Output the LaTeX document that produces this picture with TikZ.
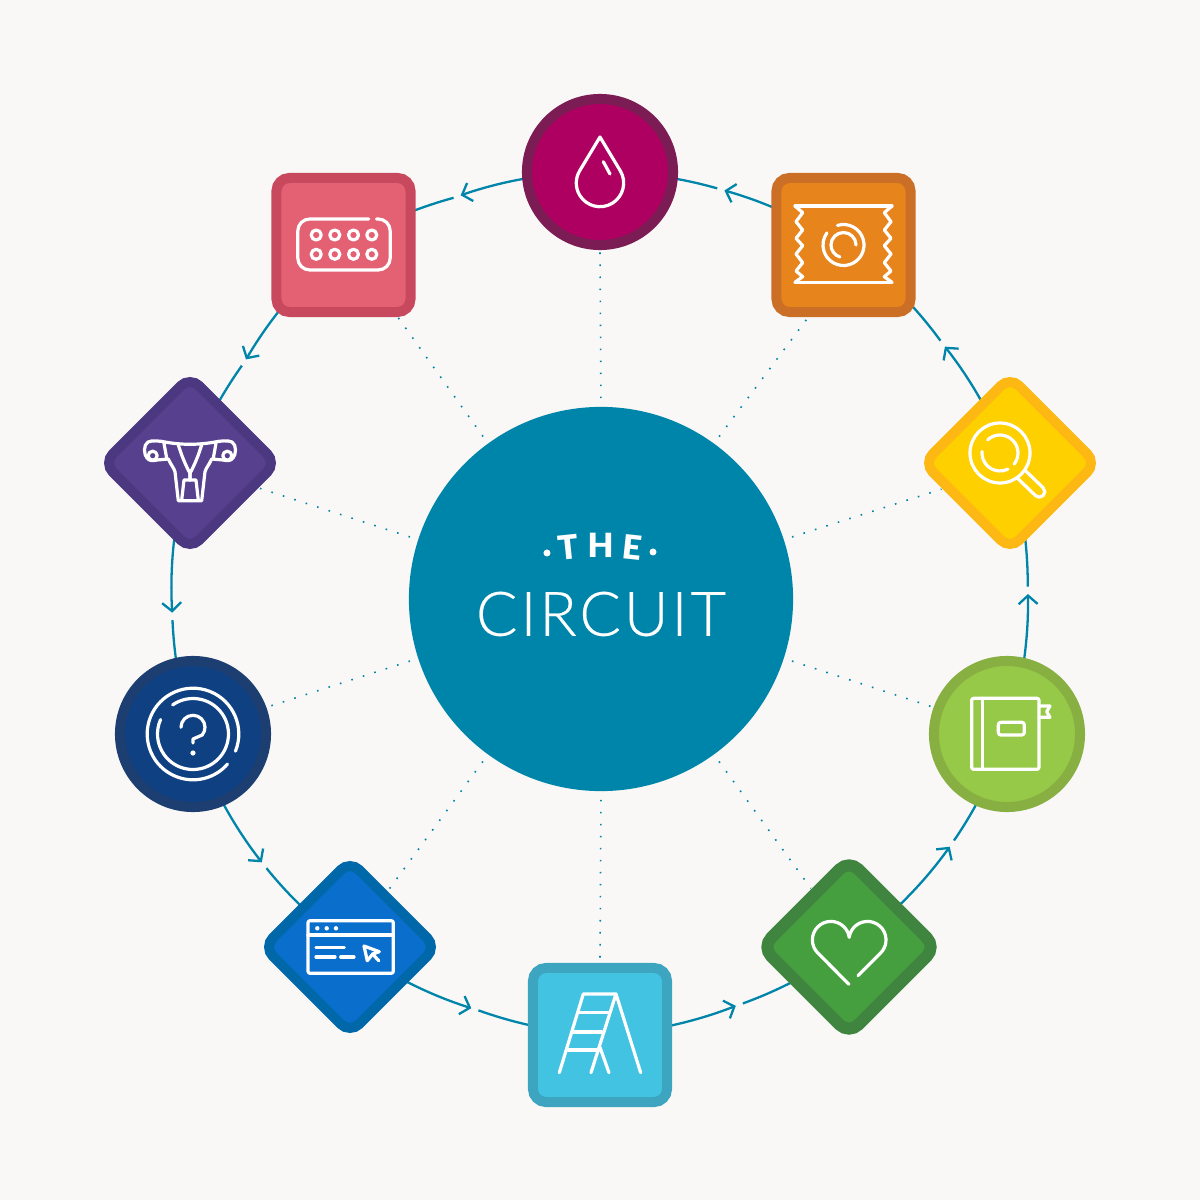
\documentclass[tikz,border=0pt]{standalone}
\usepackage{fontspec}
\setmainfont{Lato}
\newfontfamily\circuitfont[LetterSpace=4.7,FakeBold=0.35]{Lato Light}
\newfontfamily\headfont{Lato Black}
\usetikzlibrary{arrows.meta, decorations.text}
\pgfdeclarelayer{wires}
\pgfsetlayers{wires,main}

\definecolor{paper}{HTML}{F9F8F6}
\definecolor{teal}{HTML}{0085AA}
\definecolor{dropfill}{HTML}{AE0060}
\definecolor{dropedge}{HTML}{7B1C55}
\definecolor{condomfill}{HTML}{E8841C}
\definecolor{condomedge}{HTML}{CB6F27}
\definecolor{lensfill}{HTML}{FFD000}
\definecolor{lensedge}{HTML}{FDB813}
\definecolor{bookfill}{HTML}{96C947}
\definecolor{bookedge}{HTML}{88AF42}
\definecolor{heartfill}{HTML}{469F3E}
\definecolor{heartedge}{HTML}{3F853F}
\definecolor{ladderfill}{HTML}{42C3E2}
\definecolor{ladderedge}{HTML}{3DA5C0}
\definecolor{browserfill}{HTML}{0A6FCC}
\definecolor{browseredge}{HTML}{0068A8}
\definecolor{askfill}{HTML}{0E4082}
\definecolor{askedge}{HTML}{1D3E70}
\definecolor{uterusfill}{HTML}{57408E}
\definecolor{uterusedge}{HTML}{4B3880}
\definecolor{pillfill}{HTML}{E46173}
\definecolor{pilledge}{HTML}{C8485E}

\begin{document}
\begin{tikzpicture}[x=0.01cm, y=0.01cm, >={Straight Barb[length=0.085cm, width=0.19cm]}]
        % Define styles
        \tikzstyle{hubdisc} = [circle, fill=teal, minimum size=3.84cm, inner sep=0pt]
        \tikzstyle{disc} = [circle, draw, line width=0.1cm, minimum size=1.46cm, inner sep=0pt]
        \tikzstyle{tile} = [rectangle, draw, line width=0.1cm, minimum size=1.34cm, inner sep=0pt, rounded corners=0.13cm]
        \tikzstyle{gem} = [tile, rotate=45, minimum size=1.22cm]
        \tikzstyle{wire} = [draw=teal, line width=0.023cm, looseness=0.856]
        \tikzstyle{spoke} = [draw=teal, line width=0.016cm, dash pattern=on 0.016cm off 0.104cm, shorten <=0.08cm, shorten >=0.01cm]
        \tikzstyle{icon} = [draw=white, line width=0.032cm, line cap=round, line join=round]

        % Nodes
        \node [hubdisc] (hub) at (1,1) {};
        \node [disc, fill=dropfill, draw=dropedge] (drop) at (0,428) {};
        \node [tile, fill=condomfill, draw=condomedge] (condom) at (243.5,355) {};
        \node [gem, fill=lensfill, draw=lensedge] (lens) at (410,137) {};
        \node [disc, fill=bookfill, draw=bookedge] (book) at (407,-134) {};
        \node [gem, fill=heartfill, draw=heartedge, line width=0.12cm, minimum size=1.23cm] (heart) at (249,-347) {};
        \node [tile, fill=ladderfill, draw=ladderedge] (ladder) at (0,-435) {};
        \node [gem, fill=browserfill, draw=browseredge] (browser) at (-250,-347) {};
        \node [disc, fill=askfill, draw=askedge] (ask) at (-407,-134) {};
        \node [gem, fill=uterusfill, draw=uterusedge] (uterus) at (-410,137) {};
        \node [tile, fill=pillfill, draw=pilledge] (pill) at (-256.5,355) {};

        % Title
        \node [text=white, font=\circuitfont\fontsize{17.5}{20}\selectfont, inner sep=0pt] (circuit) at (1,-14) {CIRCUIT};
        \path [decorate, decoration={text along path, text align={fit to path},
            text={|\headfont\fontsize{9.5}{11}\selectfont\color{white}|THE}}]
            (0,-248) ++(98:290) arc [start angle=98, end angle=82, radius=290];
        \fill [white] (-53,47) circle [radius=3.5];
        \fill [white] (53,48) circle [radius=3.5];

        % Dotted spokes
        \foreach \target/\a/\b in {drop/90/-90, condom/54/-116.6, lens/18/156, book/-18/160, heart/-54/78,
            ladder/-90/90, browser/-126/11, ask/-162/20, uterus/162/-65, pill/126/-53.5}
            \draw [spoke] (hub.\a) -- (\target.\b);

        % Edges
        \begin{pgfonlayer}{wires}
            \fill [paper] (-600,-600) rectangle (600,600);
            \foreach \from/\to/\a/\p/\q in {lens/condom/36.3/8.9/9.15, condom/drop/73.1/8.75/8, drop/pill/109/9.5/8,
                pill/uterus/145.8/10/7.3, uterus/ask/181.7/10.1/7.75, ask/browser/217.8/9.8/7.7, browser/ladder/252.5/9.15/8.25,
                ladder/heart/288.5/9.25/8.1, heart/book/324.8/9.55/8, book/lens/0.8/9.5/8.35} {
                \coordinate (tip\from) at (\a:428);
                \coordinate (gap\from) at ({\a+1}:428);
                \draw [wire, ->] (\from.center) to [bend right=\p] (tip\from);
                \draw [wire] (gap\from) to [bend right=\q] (\to.center);
            }
        \end{pgfonlayer}

        % Drop
        \begin{scope}[shift={(drop)}]
            \draw [icon] (0,35) -- (20.3,1.2) arc [start angle=31, end angle=-211, radius=23.7] -- cycle;
            \draw [icon] (3.3,10.3) -- (10,-2);
        \end{scope}

        % Condom
        \begin{scope}[shift={(condom)}]
            \draw [icon] (-48.5,39) -- (48.5,39);
            \draw [icon] (-48.5,-37.3) -- (48.5,-37.3);
            \foreach \s in {-1,1}
                \draw [icon] (\s*48.5,39) -- (\s*40.8,32.3) -- (\s*47.5,23.3) -- (\s*40.8,15) -- (\s*47.5,6.7) -- (\s*40.8,-0.7)
                    -- (\s*47.5,-9) -- (\s*40.8,-17.7) -- (\s*47.5,-26) -- (\s*40.8,-31.7) -- (\s*48.5,-37.3);
            \draw [icon] (107:20.5) arc [start angle=107, end angle=-216, radius=20.5];
            \draw [icon] (0:12.5) arc [start angle=0, end angle=253, radius=12.5];
        \end{scope}

        % Magnifier
        \begin{scope}[shift={(lens)}]
            \draw [icon] (-10,10) circle [radius=30];
            \draw [icon] (-10,10) ++(133:18) arc [start angle=133, end angle=-38, radius=18];
            \draw [icon] (-10,10) ++(175:18) arc [start angle=175, end angle=296, radius=18];
            \draw [icon] (14.8,-7) -- (33.2,-24.8) arc [start angle=45, end angle=-135, radius=5.5] -- (7,-14.8);
        \end{scope}

        % Notebook
        \begin{scope}[shift={(book)}]
            \draw [icon, rounded corners=0.02cm] (-35.3,35.7) rectangle (32,-35.3);
            \draw [icon] (-24.3,35.7) -- (-24.3,-35.3);
            \draw [icon, rounded corners=0.025cm] (-8.7,11.7) rectangle (17.3,-1);
            \draw [icon] (32,28) -- (43,28) -- (39.7,22.3) -- (43,16.7) -- (32,16.7);
        \end{scope}

        % Heart
        \begin{scope}[shift={(heart)}]
            \draw [icon] (0,-37.3) -- (-31.2,-6) arc [start angle=225, end angle=8, radius=18.5]
                arc [start angle=172, end angle=-45, radius=18.5] -- (9,-28.7);
        \end{scope}

        % Ladder
        \begin{scope}[shift={(ladder)}]
            \draw [icon] (-40.7,-37.7) -- (-16.7,41) -- (16,41) -- (40.7,-37.7);
            \draw [icon] (16,41) -- (-9,-37.7);
            \draw [icon] (0,-12.3) -- (9,-37.7);
            \draw [icon] (-20.7,22.7) -- (9,22.7);
            \draw [icon] (-26.7,3) -- (1.7,3);
            \draw [icon] (-32.3,-15) -- (-1,-15);
        \end{scope}

        % Browser
        \begin{scope}[shift={(browser)}]
            \draw [icon, rounded corners=0.02cm] (-42,26.3) rectangle (43.3,-26.3);
            \draw [icon] (-42,12) -- (43.3,12);
            \foreach \x in {-32.7,-23.3,-14}
                \fill [white] (\x,18.7) circle [radius=2.2];
            \draw [icon] (-34,-0.7) -- (-5.7,-0.7);
            \draw [icon] (-34,-10) -- (-15,-10);
            \draw [icon] (-9.3,-10) -- (4,-10);
            \draw [icon] (14,1) -- (29.3,-4.7) -- (22.7,-7) -- (17.3,-13.7) -- cycle;
            \draw [icon] (22.7,-7) -- (28.7,-13.7);
        \end{scope}

        % Question
        \begin{scope}[shift={(ask)}]
            \draw [icon] (-22:45.8) arc [start angle=-22, end angle=319, radius=45.8];
            \draw [icon] (125:35.5) arc [start angle=125, end angle=-204, radius=35.5];
            \draw [icon] (-12,6.7) arc [start angle=180, end angle=-40, radius=12] -- (0,-5) -- (0,-9);
            \fill [white] (0,-19) circle [radius=2.6];
        \end{scope}

        % Uterus
        \begin{scope}[shift={(uterus)}]
            \foreach \s in {-1,1} {
                \begin{scope}[xscale=\s]
                    \draw [icon] (0,18.7) .. controls (-10,18.7) and (-20,20) .. (-25,21) .. controls (-30,22) and (-38,23) .. (-42,21)
                        .. controls (-47,18) and (-46,8) .. (-43,5) .. controls (-41,2) and (-37,2) .. (-33,3) -- (-21.7,4)
                        .. controls (-19,-2) and (-16,-5) .. (-15,-8.7) -- (-11.7,-37.7) -- (0,-37.7);
                    \draw [icon] (-37.3,7.3) circle [radius=4.5];
                    \draw [icon] (-26,19.7) -- (-23.3,4.7);
                    \draw [icon] (-11.7,18) .. controls (-10,13) and (-9,10) .. (-8.3,8) .. controls (-6,2) and (-3,-5) .. (0,-10.3) -- (0,-17);
                    \draw [icon] (0,-17) -- (-6,-17) -- (-8.3,-37);
                \end{scope}
            }
        \end{scope}

        % Pill pack
        \begin{scope}[shift={(pill)}]
            \draw [icon, rounded corners=0.12cm] (33,26) -- (46.7,26) -- (46.7,-25) -- (-45.7,-25) -- (-45.7,26) -- (25.3,26);
            \foreach \x in {-27.3,-8.7,10,28.3}
                \foreach \y in {10,-9.3}
                    \draw [icon] (\x,\y) circle [radius=5];
        \end{scope}
    \end{tikzpicture}
\end{document}
